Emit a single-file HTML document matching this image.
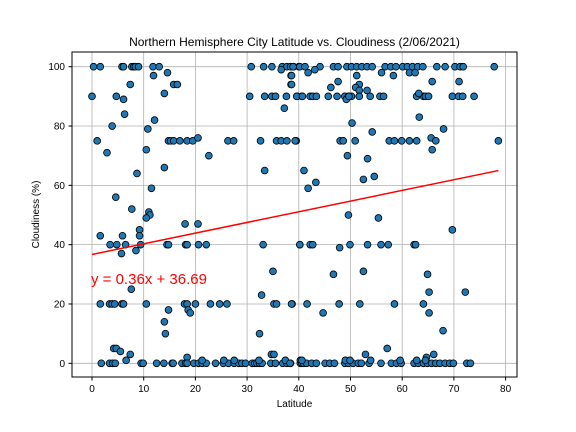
<!DOCTYPE html>
<html><head><meta charset="utf-8">
<style>
body{margin:0;background:#fff;}
svg{display:block;font-family:"Liberation Sans","DejaVu Sans",sans-serif;}
</style></head>
<body>
<svg id="chart" width="576" height="432" viewBox="0 0 576 432" xmlns="http://www.w3.org/2000/svg">
<rect width="576" height="432" fill="#fff"/>
<g id="grid"></g>
<g id="pts"></g>
<line id="reg" stroke="#ff0000" stroke-width="1.5"/>
<rect x="72" y="52" width="445" height="325" fill="none" stroke="#000" stroke-width="1"/>
<g id="ticks"></g>
<text x="294.5" y="46" text-anchor="middle" font-size="12">Northern Hemisphere City Latitude vs. Cloudiness (2/06/2021)</text>
<text x="294.5" y="407" text-anchor="middle" font-size="10">Latitude</text>
<text x="0" y="0" transform="translate(39,214.5) rotate(-90)" text-anchor="middle" font-size="10">Cloudiness (%)</text>
<text x="91" y="284" font-size="15" fill="#ff0000">y = 0.36x + 36.69</text>
</svg>
<script>
const xTicks=[0,10,20,30,40,50,60,70,80];
const yTicks=[0,20,40,60,80,100];
const slope=0.36, intercept=36.69;
const lats=[0.3,1.6,5.8,6.1,7.7,8.1,8.4,9,11.8,13,30.8,33.2,34.8,36.8,37.7,38.4,39,40,11.9,14.6,7.4,15.8,16.5,36.6,38.5,38.5,
0,4.7,6.1,14,30.5,33.4,34.8,35.5,37.6,39.7,40.6,6.3,3.9,12.1,37.2,
1,14.8,15.2,15.8,17,18.4,19.5,20.5,26.3,27.4,32.6,35.7,36.6,37.7,39.5,
2.9,10.8,10.5,22.6,14,33.4,8.7,11.5,4.6,7.7,11,11.2,10.5,9.2,9.2,1.6,5.9,18,20.5,
3.5,4.8,6.5,5.7,8.5,9.4,14.5,14.8,18.1,18.4,20.6,22.1,33.1,40.2,35,32.8,7.6,
1.6,3.4,3.9,4.4,5.8,6.1,10.5,17.9,18.4,20,22.9,24.7,26.1,35.2,35.7,38.7,18.6,19,14.8,14,14.2,32.4,
4.2,4.7,5.5,7.4,6.6,18.4,34.7,35.2,
1.8,3.4,4,4.5,9.5,9.9,12.5,13.9,15.5,15.7,17.4,18.1,18.4,19.7,20.6,21.3,22.1,23.9,25.4,26.4,27.5,28.4,29,29.7,31,31.5,31.9,32.4,32.9,34.6,35.5,36.9,37.7,38.4,40.3,
21.3,25.5,27.5,32.3,37.4,40.3,
38.9,40.2,41.2,44.1,46.7,47.6,49.3,50.2,51.2,52.2,53.2,54.2,56.7,57.8,58.8,60.1,61,62,63,64,66.7,68.3,70.2,71.2,71.8,77.8,
38.6,38.6,41.8,43.1,51.2,51.7,51,51.7,53.2,47.6,46.2,56,58.3,61.4,62.5,65.8,71,
39.6,40.7,42.2,42.7,43.4,45.7,47.4,48.9,49.6,50.2,51.7,53.8,55.7,56.4,62.8,64.1,64.5,65.1,69.7,70.9,71.7,73.9,49.2,49.7,63.2,63.3,50.3,
39.3,48,48.6,50.9,57.5,58.5,59.9,61.4,62.8,65.6,66.5,78.6,54.2,68,65.8,49.4,53.3,41,41.8,43.3,52.5,54.6,49.6,55.4,69.7,
40.2,42.2,42.7,49.9,53.3,55.9,57.3,62.3,62.6,47.9,46.7,52.5,64.9,65.2,72.2,
38.6,41.6,47.8,51.8,58.5,64.1,44.7,65.2,67.9,57.1,52.9,66.1,64.7,
38.3,40.6,40.9,41.5,42.5,43.4,45.1,46,46.9,48.9,49.6,50.5,51.5,52.1,53.6,55.9,57.9,58.9,59.8,62.3,63.1,64.1,64.9,65.7,66.5,67.3,68.3,69.2,69.9,72.5,73.2,
40.6,49,49.9,53.9,59.6,62.8,64.5];
const clouds=[100,100,100,100,100,100,100,100,100,100,100,100,100,100,100,100,100,100,97,98,94,94,94,99,97,94,
90,90,89,91,90,90,90,90,90,90,90,84,80,82,86,
75,75,75,75,75,75,75,76,75,75,75,75,75,75,75,
71,79,72,70,66,65,64,59,56,52,51,50,49,45,43,43,43,47,47,
40,40,40,37,38,40,40,40,40,40,40,40,40,40,31,23,25,
20,20,20,20,20,20,20,20,20,20,20,20,20,20,20,20,18,17,18,14,10,10,
5,5,4,3,1,2,3,3,
0,0,0,0,0,0,0,0,0,0,0,0,0,0,0,0,0,0,0,0,0,0,0,0,0,0,0,0,0,0,0,0,0,0,0,
1,1,1,1,1,1,
100,100,100,100,100,100,100,100,100,100,100,100,100,100,100,100,100,100,100,100,100,100,100,100,100,100,
97,94,98,99,97,94,93,92,92,95,93,98,97,98,98,95,95,
90,90,90,90,90,90,90,90,90,90,90,90,90,90,90,90,90,90,90,90,90,90,89,90,91,83,81,
75,75,75,75,75,75,75,75,75,76,75,75,78,79,72,70,69,65,59,61,62,63,50,49,45,
40,40,40,40,40,40,40,40,40,39,30,31,30,24,24,
20,20,20,20,20,20,17,17,11,5,3,3,2,
0,0,0,0,0,0,0,0,0,0,0,0,0,0,0,0,0,0,0,0,0,0,0,0,0,0,0,0,0,0,0,
1,1,1,1,1,1,1];
const NS="http://www.w3.org/2000/svg";
function xs(v){return 92+v*5.17;}
function ys(v){return 363.3-v*2.966;}
const grid=document.getElementById('grid'), ticks=document.getElementById('ticks'), pts=document.getElementById('pts');
xTicks.forEach(t=>{
  const g=document.createElementNS(NS,'line');
  
  
  g.setAttribute('x1',xs(t));g.setAttribute('x2',xs(t));g.setAttribute('y1',52);g.setAttribute('y2',377);
  g.setAttribute('stroke','#b0b0b0');g.setAttribute('stroke-width','0.8');grid.appendChild(g);
  const tk=document.createElementNS(NS,'line');
  
  
  tk.setAttribute('x1',xs(t));tk.setAttribute('x2',xs(t));tk.setAttribute('y1',377);tk.setAttribute('y2',380.5);
  tk.setAttribute('stroke','#000');ticks.appendChild(tk);
  const tx=document.createElementNS(NS,'text');
  
  
  tx.setAttribute('x',xs(t));tx.setAttribute('y',392);tx.setAttribute('text-anchor','middle');tx.setAttribute('font-size','10');
  tx.textContent=t;ticks.appendChild(tx);
});
yTicks.forEach(t=>{
  const g=document.createElementNS(NS,'line');
  
  
  g.setAttribute('x1',72);g.setAttribute('x2',517);g.setAttribute('y1',ys(t));g.setAttribute('y2',ys(t));
  g.setAttribute('stroke','#b0b0b0');g.setAttribute('stroke-width','0.8');grid.appendChild(g);
  const tk=document.createElementNS(NS,'line');
  
  
  tk.setAttribute('x1',68.5);tk.setAttribute('x2',72);tk.setAttribute('y1',ys(t));tk.setAttribute('y2',ys(t));
  tk.setAttribute('stroke','#000');ticks.appendChild(tk);
  const tx=document.createElementNS(NS,'text');
  
  
  tx.setAttribute('x',65);tx.setAttribute('y',ys(t)+3.5);tx.setAttribute('text-anchor','end');tx.setAttribute('font-size','10');
  tx.textContent=t;ticks.appendChild(tx);
});
const n=Math.min(lats.length,clouds.length);
for(let i=0;i<n;i++){
  const c=document.createElementNS(NS,'circle');
  
  
  c.setAttribute('cx',xs(lats[i]));c.setAttribute('cy',ys(clouds[i]));c.setAttribute('r',3.4);
  c.setAttribute('fill','#1f77b4');c.setAttribute('stroke','#000');c.setAttribute('stroke-width','0.8');
  pts.appendChild(c);
}
const mn=Math.min(...lats), mx=Math.max(...lats);
const r=document.getElementById('reg');
r.setAttribute('x1',xs(mn));r.setAttribute('y1',ys(slope*mn+intercept));
r.setAttribute('x2',xs(mx));r.setAttribute('y2',ys(slope*mx+intercept));
</script>
</body></html>
